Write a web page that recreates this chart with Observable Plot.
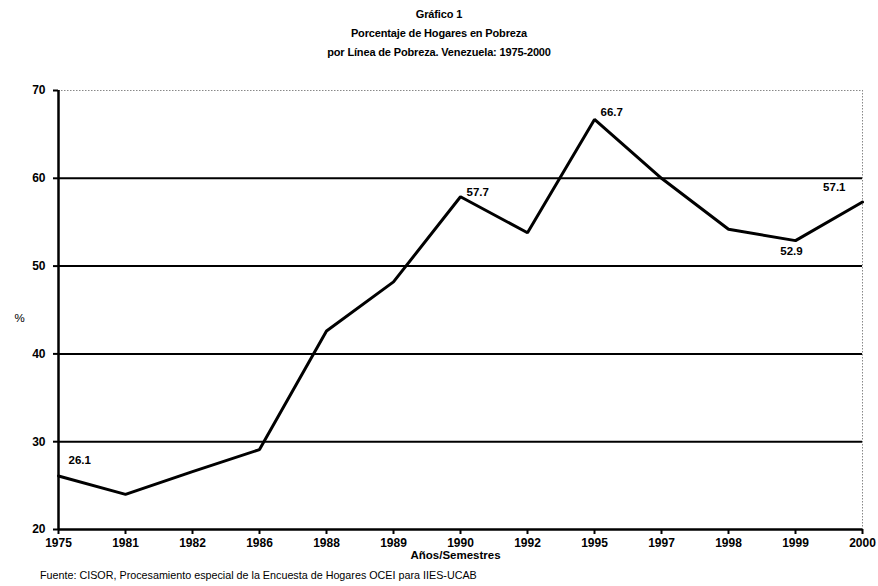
<!DOCTYPE html>
<html>
<head>
<meta charset="utf-8">
<script src="https://cdn.jsdelivr.net/npm/d3@7"></script>
<script src="https://cdn.jsdelivr.net/npm/@observablehq/plot@0.6"></script>
<style>
  html, body { margin: 0; padding: 0; background: #fff; }
  body { width: 878px; height: 586px; position: relative; overflow: hidden; font-family: "Liberation Sans", Arial, sans-serif; }
  #title { position: absolute; top: 5px; left: 0; width: 878px; text-align: center;
           font-family: "Liberation Sans Narrow", "Liberation Sans", Arial, sans-serif;
           font-weight: bold; font-size: 11px; letter-spacing: -0.15px; line-height: 19px; color: #000; }
  #chart { position: absolute; top: 70px; left: 0; }
  #caption { position: absolute; top: 569px; left: 40px; font-size: 10.75px; color: #000; white-space: nowrap; }
</style>
</head>
<body>
<div id="title">Gráfico 1<br>Porcentaje de Hogares en Pobreza<br>por Línea de Pobreza. Venezuela: 1975-2000</div>
<div id="chart"></div>
<div id="caption">Fuente: CISOR, Procesamiento especial de la Encuesta de Hogares OCEI para IIES-UCAB</div>
<script>
const years = ["1975","1981","1982","1986","1988","1989","1990","1992","1995","1997","1998","1999","2000"];
const pct = [26.1, 24.0, 26.6, 29.1, 42.6, 48.2, 57.9, 53.8, 66.7, 60.0, 54.2, 52.9, 57.3];
const yTicks = [20, 30, 40, 50, 60, 70];
const gridValues = [30, 40, 50, 60];
const labelYears = ["1975", "1990", "1995", "1999", "2000"];
const labelTexts = ["26.1", "57.7", "66.7", "52.9", "57.1"];
const xTitle = "Años/Semestres";
const yTitle = "%";

const data = years.map((y, i) => ({year: y, value: pct[i]}));
const offsets = [[10, -16, "start"], [6, -4, "start"], [6, -7, "start"], [-4, 11, "middle"], [-17, -15, "end"]];
const labelMarks = labelYears.map((yr, i) => {
  const v = pct[years.indexOf(yr)];
  return Plot.text([{year: yr, value: v, t: labelTexts[i]}], {
    x: "year", y: "value", text: "t",
    dx: offsets[i][0], dy: offsets[i][1], textAnchor: offsets[i][2],
    fontWeight: "bold", fontSize: 11.5, fill: "#000"
  });
});

const chart = Plot.plot({
  width: 878,
  height: 500,
  marginLeft: 58,
  marginRight: 16,
  marginTop: 20,
  marginBottom: 41,
  style: { fontFamily: "'Liberation Sans', Arial, sans-serif", fontSize: "12px", color: "#000", background: "#fff" },
  x: { type: "point", domain: years, padding: 0 },
  y: { domain: [20, 70] },
  marks: [
    Plot.ruleY([70], { stroke: "#888", strokeDasharray: "1.5,1.5", strokeWidth: 1 }),
    Plot.ruleX([years[years.length - 1]], { stroke: "#888", strokeDasharray: "1.5,1.5", strokeWidth: 1 }),
    Plot.ruleY(gridValues, { stroke: "#000", strokeWidth: 2 }),
    Plot.axisY(yTicks, { tickSize: 5, tickPadding: 8, label: null, fontWeight: "bold", fontSize: 12, stroke: "#000", strokeWidth: 2 }),
    Plot.axisX({ tickSize: 5, tickPadding: 4, label: null, fontWeight: "bold", fontSize: 12, stroke: "#000", strokeWidth: 2 }),
    Plot.ruleX([years[0]], { stroke: "#000", strokeWidth: 2.5 }),
    Plot.ruleY([20], { stroke: "#000", strokeWidth: 2.5 }),
    Plot.line(data, { x: "year", y: "value", stroke: "#000", strokeWidth: 3, strokeLinejoin: "miter" }),
    ...labelMarks,
    Plot.text([xTitle], { frameAnchor: "bottom", dy: 26, dx: -5, fontWeight: "bold", fontSize: 11.5, lineAnchor: "middle" }),
    Plot.text([yTitle], { frameAnchor: "left", dx: -44, dy: 8, fontSize: 11.5, fontWeight: "normal" })
  ]
});
document.getElementById("chart").appendChild(chart);
</script>
</body>
</html>
